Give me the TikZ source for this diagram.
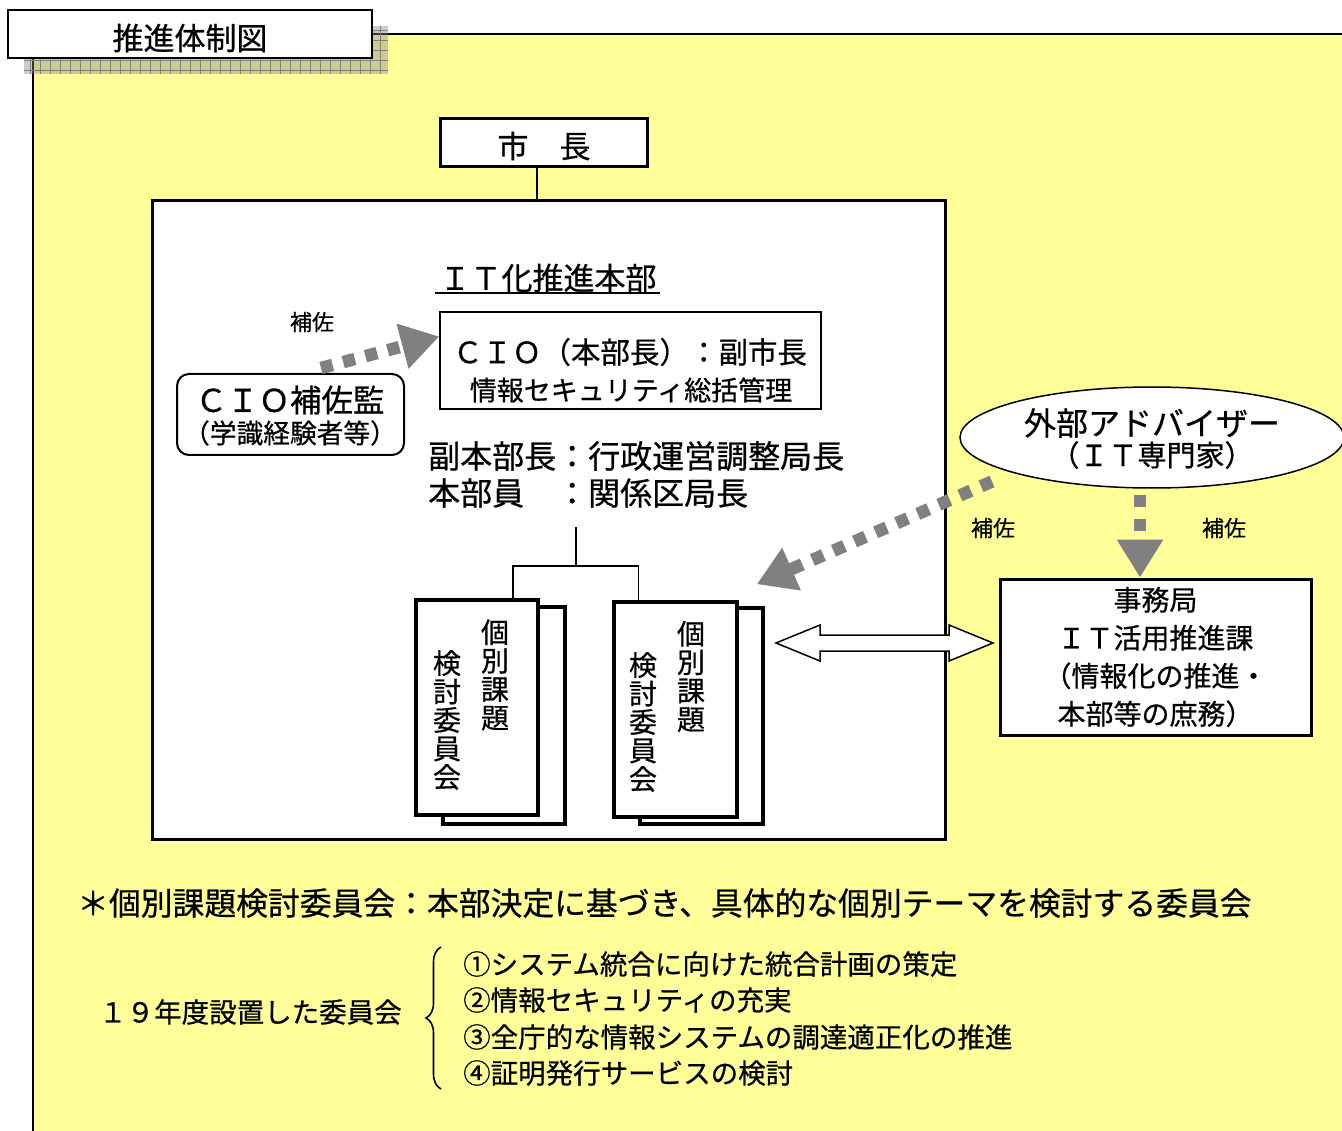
\documentclass[tikz,border=0pt]{standalone}
\usepackage{fontspec}
\setmainfont{Noto Sans CJK JP}[FakeBold=0.6]
\usetikzlibrary{arrows.meta,calc,decorations.pathreplacing,shapes.geometric}
\definecolor{panel}{RGB}{255,255,153}
\definecolor{arrowgray}{RGB}{128,128,128}
\newcommand{\fs}[2]{\fontsize{#1}{#2}\selectfont}
\begin{document}
\begin{tikzpicture}[x=1pt,y=-1pt,
  box/.style={draw=black, fill=white, inner sep=0pt},
  txt/.style={inner sep=0pt},
  hosaarrow/.style={draw=arrowgray, line width=12.5pt, dash pattern=on 12pt off 11pt, -{Triangle[length=38pt,width=44pt]}},
  connector/.style={draw=black, line width=1.3pt},
]
\useasboundingbox (0,0) rectangle (1342,1131);
% background panel
\fill[panel] (33,34) rectangle (1342,1131);
\draw[line width=2pt] (33,1131) -- (33,34) -- (1342,34);
% title shadow
\fill[arrowgray, fill opacity=0.4] (24,26) rectangle (388,74);
\draw[arrowgray, line width=0.7pt, step=10pt] (24,26) grid (388,74);
% title
\node[box, line width=2pt, minimum width=364pt, minimum height=48pt] (title) at (190,34.5) {};
\node[txt] (titletext) at (190,38) {\fs{31}{31}推進体制図};

% mayor and headquarters
\node[box, line width=3pt, minimum width=207pt, minimum height=48pt] (mayor) at (543.5,143) {};
\node[txt] (mayortext) at (544,146) {\fs{31}{31}市　長};
\node[box, line width=3pt, minimum width=793pt, minimum height=638pt] (hq) at (548.5,520) {};
\draw[connector] ([xshift=-6.5pt]mayor.south) -- ([xshift=-6.5pt]mayor.south |- hq.north);

\node[txt] (hqtitle) at (548,278) {\fs{31}{31}ＩＴ化推進本部};
\draw[line width=1.5pt] (435,293) -- (660,293);

% CIO
\node[box, line width=1.5pt, minimum width=381pt, minimum height=97pt] (cio) at (630.5,360.5) {};
\node[txt] (cio1) at (630,352) {\fs{29.5}{29.5}ＣＩＯ（本部長）：副市長};
\node[txt] (cio2) at (631,390) {\fs{27}{27}情報セキュリティ総括管理};

% CIO assistant
\node[box, rounded corners=12pt, line width=2pt, minimum width=227pt, minimum height=81pt] (hosa) at (290.5,414.5) {};
\node[txt] (hosa1) at (290,400) {\fs{31.5}{31.5}ＣＩＯ補佐監};
\node[txt] (hosa2) at (290,433) {\fs{26.7}{26.7}（学識経験者等）};
\node[txt] (lab1) at (312,322) {\fs{22}{22}補佐};

\node[txt, anchor=west] (vice) at (428,456) {\fs{32}{32}副本部長：行政運営調整局長};
\node[txt, anchor=west] (mem) at (428,493) {\fs{32}{32}本部員　：関係区局長};

% committees
\node[box, line width=3.5pt, minimum width=122pt, minimum height=217pt] (c1b) at (504,715.5) {};
\node[box, line width=3.5pt, minimum width=122pt, minimum height=215pt] (c1f) at (477,707.5) {};
\node[txt, align=center, font=\fs{28}{28.5}] (c1r) at (495,675) {個\\別\\課\\題};
\node[txt, align=center, font=\fs{28}{28.5}] (c1l) at (447,720) {検\\討\\委\\員\\会};

\node[box, line width=3.5pt, minimum width=123pt, minimum height=216pt] (c2b) at (701.5,716) {};
\node[box, line width=3.5pt, minimum width=123pt, minimum height=215pt] (c2f) at (675.5,709.5) {};
\node[txt, align=center, font=\fs{28}{28.5}] (c2r) at (691,676.5) {個\\別\\課\\題};
\node[txt, align=center, font=\fs{28}{28.5}] (c2l) at (643,722) {検\\討\\委\\員\\会};

% tree
\coordinate (treetop) at (576,527);
\coordinate (tj) at (576,566);
\draw[connector] (treetop) -- (tj);
\draw[connector] ([xshift=36pt]c1f.north) |- ([xshift=-37pt]c2f.north |- tj) -- ([xshift=-37pt]c2f.north);

% advisor
\node[ellipse, draw, fill=white, line width=1.5pt, minimum width=384pt, minimum height=101pt, inner sep=0pt] (adv) at (1152,437.5) {};
\node[txt] (adv1) at (1152,423) {\fs{32}{32}外部アドバイザー};
\node[txt] (adv2) at (1152,455) {\fs{29}{29}（ＩＴ専門家）};

% secretariat
\node[box, line width=3pt, minimum width=311pt, minimum height=156pt, align=center, font=\fs{28}{38}] (jimu) at (1155.5,657) {事務局\\ＩＴ活用推進課\\（情報化の推進・\\本部等の庶務）};

\node[txt] (lab2) at (993,528) {\fs{22}{22}補佐};
\node[txt] (lab3) at (1224,528) {\fs{22}{22}補佐};

% dotted gray arrows
\draw[hosaarrow] ([xshift=-84pt,yshift=5pt]hosa.north east) -- ([yshift=24pt]cio.west);
\draw[hosaarrow] ([xshift=-160pt,yshift=-44pt]adv.center) -- ([xshift=-8pt,yshift=22pt]c2b.north east);
\draw[hosaarrow, dash pattern=on 12pt off 12pt] ([xshift=-12pt,yshift=-6pt]adv.south) -- ([xshift=-15.5pt]jimu.north);

% double hollow arrow
\coordinate (dl) at (776,643);
\coordinate (dr) at (993,643);
\draw[line width=1.5pt, fill=white, line join=miter]
  (dl) -- ($(dl)+(44,-18)$) -- ($(dl)+(44,-8)$) -- ($(dr)+(-44,-8)$) -- ($(dr)+(-44,-18)$) -- (dr)
  -- ($(dr)+(-44,18)$) -- ($(dr)+(-44,8)$) -- ($(dl)+(44,8)$) -- ($(dl)+(44,18)$) -- cycle;

% notes
\node[txt, anchor=west] (note) at (77,903) {\fs{31.8}{31.8}＊個別課題検討委員会：本部決定に基づき、具体的な個別テーマを検討する委員会};
\node[txt, anchor=west] (year) at (99,1012) {\fs{27.5}{27.5}１９年度設置した委員会};
\draw[line width=1.6pt, decorate, decoration={brace, amplitude=15pt}] (441,1089) -- (441,947);
\node[txt, anchor=west] (it1) at (463,964) {\fs{27.5}{27.5}①システム統合に向けた統合計画の策定};
\node[txt, anchor=west] (it2) at (463,1000) {\fs{27.5}{27.5}②情報セキュリティの充実};
\node[txt, anchor=west] (it3) at (463,1037) {\fs{27.5}{27.5}③全庁的な情報システムの調達適正化の推進};
\node[txt, anchor=west] (it4) at (463,1073) {\fs{27.5}{27.5}④証明発行サービスの検討};
\end{tikzpicture}
\end{document}
